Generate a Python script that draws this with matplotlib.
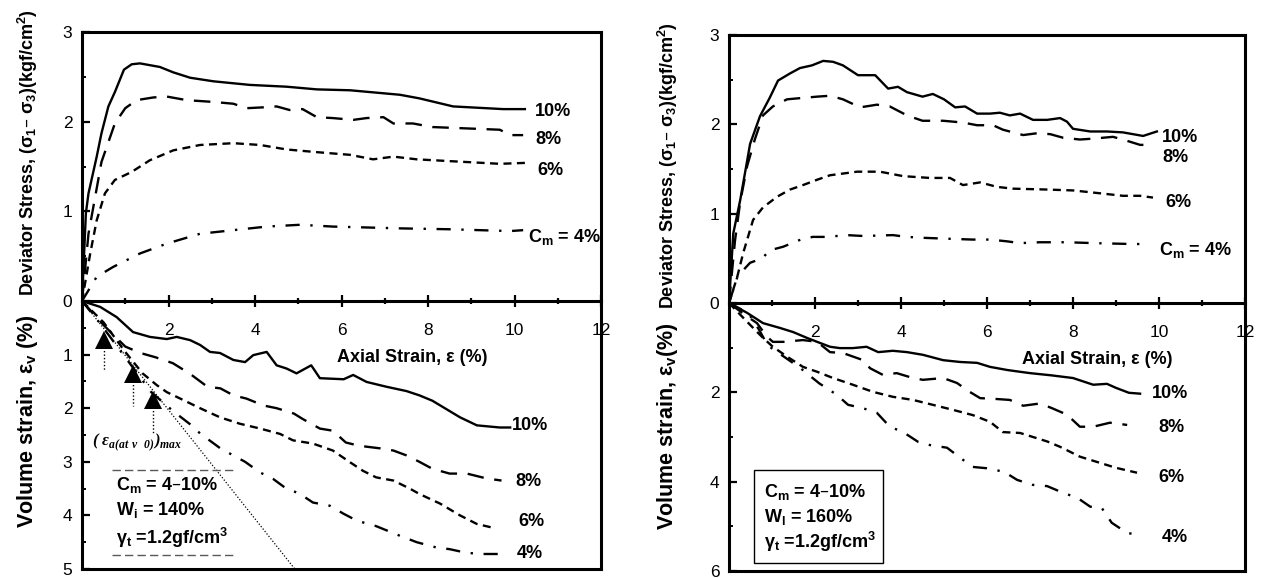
import matplotlib
matplotlib.use('Agg')
import matplotlib.pyplot as plt
from matplotlib.ticker import MultipleLocator, FixedLocator, NullFormatter
from matplotlib.lines import Line2D
from matplotlib.patches import Rectangle

plt.rcParams['font.family'] = ['Liberation Sans', 'DejaVu Sans']

W, H = 1263, 578

# ---------------- data: left panel (W = 140 %) ----------------
LT_x10 = [0, 0.09, 0.15, 0.34, 0.45, 0.61, 0.76, 0.97, 1.15, 1.34, 1.8, 2.11, 2.5, 3.04, 3.88, 4.73, 5.43, 6.2, 7.35, 7.8, 8.58, 9.74, 10.24]
LT_y10 = [0, 0.98, 1.2, 1.61, 1.87, 2.17, 2.33, 2.58, 2.64, 2.65, 2.61, 2.55, 2.49, 2.45, 2.41, 2.39, 2.36, 2.35, 2.30, 2.26, 2.17, 2.14, 2.14]
LT_x8 = [0, 0.15, 0.45, 0.76, 1.0, 1.26, 1.65, 1.96, 2.42, 3.04, 3.5, 3.8, 4.2, 4.5, 4.8, 5.1, 5.43, 5.8, 6.27, 6.58, 6.97, 7.2, 7.65, 8.1, 9.66, 9.9, 10.2]
LT_y8 = [0, 0.75, 1.55, 1.98, 2.15, 2.24, 2.27, 2.28, 2.24, 2.22, 2.2, 2.15, 2.16, 2.17, 2.13, 2.14, 2.05, 2.04, 2.02, 2.04, 2.05, 1.98, 1.98, 1.94, 1.91, 1.85, 1.85]
LT_x6 = [0, 0.19, 0.34, 0.53, 0.76, 1.15, 1.57, 2.11, 2.73, 3.5, 4.12, 4.73, 5.43, 6.2, 6.73, 7.2, 7.74, 8.5, 9.66, 10.24]
LT_y6 = [0, 0.53, 0.9, 1.2, 1.35, 1.44, 1.57, 1.68, 1.74, 1.76, 1.74, 1.69, 1.66, 1.63, 1.58, 1.61, 1.58, 1.56, 1.53, 1.54]
LT_x4 = [0, 0.34, 0.72, 1.34, 1.96, 2.73, 3.5, 4.27, 5.04, 5.8, 6.58, 7.35, 8.5, 9.9, 10.2]
LT_y4 = [0, 0.27, 0.38, 0.53, 0.64, 0.75, 0.79, 0.83, 0.85, 0.83, 0.82, 0.81, 0.80, 0.78, 0.79]

LB_x10 = [0, 0.42, 0.8, 1.18, 1.57, 1.96, 2.19, 2.5, 2.73, 2.96, 3.19, 3.5, 3.77, 3.96, 4.27, 4.5, 4.73, 4.96, 5.3, 5.5, 6.05, 6.27, 6.58, 7.04, 7.5, 7.8, 8.1, 8.74, 9.13, 9.66, 9.9]
LB_y10 = [0, 0.11, 0.3, 0.58, 0.67, 0.71, 0.67, 0.73, 0.82, 0.95, 0.97, 1.1, 1.14, 1.01, 0.95, 1.2, 1.26, 1.35, 1.2, 1.44, 1.46, 1.38, 1.51, 1.6, 1.68, 1.76, 1.86, 2.17, 2.32, 2.36, 2.36]
LB_x8 = [0, 0.5, 1.0, 1.35, 1.7, 2.1, 2.5, 2.9, 3.2, 3.5, 3.8, 4.2, 4.5, 4.9, 5.1, 5.5, 5.8, 6.1, 6.4, 6.9, 7.2, 7.5, 7.8, 8.1, 8.5, 8.9, 9.35, 9.7]
LB_y8 = [0, 0.45, 0.85, 0.97, 1.05, 1.16, 1.36, 1.6, 1.63, 1.76, 1.82, 1.95, 2.0, 2.1, 2.2, 2.38, 2.42, 2.64, 2.7, 2.75, 2.79, 2.88, 3.0, 3.13, 3.22, 3.22, 3.31, 3.35]
LB_x6 = [0, 0.5, 1.0, 1.4, 1.73, 1.96, 2.27, 2.73, 3.19, 3.65, 4.12, 4.58, 4.88, 5.34, 5.8, 6.2, 6.5, 6.8, 7.2, 7.58, 7.8, 8.28, 8.74, 9.13, 9.5]
LB_y6 = [0, 0.4, 0.95, 1.35, 1.57, 1.7, 1.82, 2.0, 2.17, 2.29, 2.38, 2.48, 2.6, 2.66, 2.79, 3.01, 3.17, 3.29, 3.35, 3.5, 3.6, 3.78, 4.0, 4.16, 4.23]
LB_x4 = [0, 0.4, 1.0, 1.6, 2.1, 2.5, 2.73, 3.2, 3.77, 4.12, 4.42, 4.69, 5.04, 5.34, 5.73, 6.05, 6.36, 6.8, 7.35, 7.74, 8.2, 8.5, 8.9, 9.3, 9.66]
LB_y4 = [0, 0.4, 1.05, 1.7, 2.05, 2.3, 2.47, 2.75, 3.0, 3.2, 3.32, 3.48, 3.6, 3.76, 3.82, 3.97, 4.1, 4.2, 4.38, 4.5, 4.6, 4.63, 4.7, 4.72, 4.72]

# tangent line and arrows (left volume panel)
tangent_x = [0, 5.0]
tangent_y = [0, 5.08]
arrow_x = [0.5, 1.18, 1.65]
arrow_tip = [0.55, 1.2, 1.68]
arrow_tail = [1.3, 1.95, 2.47]

# ---------------- data: right panel (W = 160 %) ----------------
RT_x10 = [0, 0.1, 0.26, 0.37, 0.49, 0.72, 0.95, 1.14, 1.42, 1.65, 1.93, 2.19, 2.42, 2.65, 3.0, 3.4, 3.7, 3.93, 4.14, 4.5, 4.74, 5.0, 5.26, 5.49, 5.77, 6.07, 6.3, 6.53, 6.77, 7.07, 7.4, 7.7, 7.86, 8.0, 8.4, 8.79, 9.16, 9.63, 9.95]
RT_y10 = [0, 0.78, 1.15, 1.45, 1.78, 2.09, 2.3, 2.49, 2.57, 2.63, 2.66, 2.71, 2.7, 2.66, 2.55, 2.55, 2.4, 2.42, 2.36, 2.31, 2.34, 2.28, 2.19, 2.2, 2.12, 2.12, 2.13, 2.1, 2.12, 2.05, 2.05, 2.07, 2.03, 1.95, 1.92, 1.92, 1.91, 1.87, 1.92]
RT_x8 = [0, 0.14, 0.26, 0.42, 0.6, 0.79, 1.02, 1.35, 1.58, 2.05, 2.35, 2.65, 3.05, 3.44, 3.74, 4.14, 4.5, 4.98, 5.44, 5.77, 6.14, 6.37, 6.84, 7.16, 7.47, 7.77, 8.16, 8.47, 8.93, 9.16, 9.56, 9.79]
RT_y8 = [0, 0.7, 1.13, 1.53, 1.83, 2.1, 2.2, 2.28, 2.29, 2.31, 2.32, 2.28, 2.19, 2.22, 2.2, 2.1, 2.04, 2.04, 2.02, 1.99, 1.99, 1.94, 1.88, 1.9, 1.89, 1.85, 1.83, 1.84, 1.86, 1.83, 1.77, 1.77]
RT_x6 = [0, 0.19, 0.33, 0.56, 0.79, 1.12, 1.42, 1.72, 2.05, 2.35, 2.98, 3.51, 4.05, 4.67, 5.14, 5.44, 5.84, 6.23, 6.6, 7.4, 8.0, 8.4, 9.16, 9.56, 9.86]
RT_y6 = [0, 0.29, 0.56, 0.93, 1.07, 1.19, 1.27, 1.32, 1.38, 1.43, 1.47, 1.47, 1.42, 1.4, 1.4, 1.32, 1.35, 1.3, 1.28, 1.27, 1.26, 1.24, 1.2, 1.2, 1.18]
RT_x4 = [0, 0.2, 0.49, 0.77, 0.95, 1.26, 1.72, 1.95, 2.28, 2.74, 3.12, 3.81, 4.14, 4.5, 5.05, 5.67, 6.07, 6.47, 6.77, 7.23, 7.86, 8.5, 9.4, 9.56]
RT_y4 = [0, 0.3, 0.45, 0.5, 0.59, 0.63, 0.72, 0.74, 0.74, 0.76, 0.75, 0.76, 0.74, 0.73, 0.72, 0.71, 0.71, 0.69, 0.67, 0.68, 0.68, 0.67, 0.66, 0.66]

RB_x10 = [0, 0.42, 0.79, 1.19, 1.49, 1.81, 2.05, 2.35, 2.58, 2.88, 3.2, 3.47, 3.81, 4.14, 4.51, 4.98, 5.37, 5.77, 6.07, 6.47, 6.77, 7.0, 7.5, 8.0, 8.47, 8.79, 9.0, 9.3, 9.56]
RB_y10 = [0, 0.22, 0.45, 0.56, 0.65, 0.78, 0.87, 0.98, 1.01, 1.01, 0.98, 1.1, 1.07, 1.1, 1.16, 1.28, 1.32, 1.34, 1.43, 1.5, 1.54, 1.57, 1.62, 1.68, 1.83, 1.81, 1.9, 2.01, 2.03]
RB_x8 = [0, 0.42, 0.65, 0.88, 1.02, 1.26, 1.72, 2.05, 2.35, 2.65, 3.12, 3.28, 3.58, 3.9, 4.28, 4.51, 4.98, 5.3, 5.6, 5.84, 6.23, 6.53, 6.84, 7.23, 7.5, 7.86, 8.16, 8.47, 8.86, 9.26]
RB_y8 = [0, 0.3, 0.45, 0.75, 0.87, 0.87, 0.83, 0.87, 1.1, 1.12, 1.28, 1.46, 1.61, 1.57, 1.68, 1.72, 1.68, 1.79, 1.99, 2.13, 2.15, 2.17, 2.3, 2.25, 2.35, 2.5, 2.77, 2.77, 2.68, 2.73]
RB_x6 = [0, 0.4, 0.79, 1.02, 1.35, 1.72, 2.05, 2.42, 2.88, 3.35, 3.81, 4.28, 4.74, 5.2, 5.67, 6.07, 6.37, 6.77, 7.07, 7.4, 7.7, 8.16, 8.63, 9.0, 9.49]
RB_y6 = [0, 0.4, 0.78, 0.98, 1.2, 1.43, 1.54, 1.68, 1.83, 1.99, 2.1, 2.17, 2.28, 2.39, 2.51, 2.66, 2.89, 2.91, 3.0, 3.1, 3.22, 3.44, 3.58, 3.69, 3.8]
RB_x4 = [0, 0.3, 0.5, 0.7, 0.9, 1.2, 1.65, 2.1, 2.5, 2.77, 3.1, 3.44, 3.74, 4.05, 4.4, 4.67, 5.07, 5.44, 5.67, 6.0, 6.4, 6.7, 7.05, 7.4, 7.77, 8.1, 8.4, 8.67, 8.9, 9.26, 9.56]
RB_y4 = [0, 0.15, 0.3, 0.6, 0.95, 1.15, 1.45, 1.8, 2.05, 2.28, 2.35, 2.46, 2.77, 2.89, 3.11, 3.18, 3.24, 3.51, 3.67, 3.7, 3.78, 3.96, 4.07, 4.1, 4.25, 4.36, 4.56, 4.59, 4.92, 5.15, 5.19]

# ---------------- styles ----------------
LW = 1.7
styles = {
    '10': dict(color='black', lw=LW, linestyle='-'),
    '8': dict(color='black', lw=LW, linestyle=(0, (7.0, 4.5))),
    '6': dict(color='black', lw=LW, linestyle=(0, (3.4, 2.3))),
    '4': dict(color='black', lw=LW, linestyle=(0, (6.0, 4.5, 1.0, 4.5))),
}

fig = plt.figure(figsize=(W / 100, H / 100), dpi=100)


def box(x0, y0, x1, y1):
    return [x0 / W, 1 - y1 / H, (x1 - x0) / W, (y1 - y0) / H]


def fx(x):
    return x / W


def fy(y):
    return 1 - y / H


TICK_FS = 12.5
LAB_FS = 13
VOL_FS = 15.5


def make_panel(x0, x1, ytop, ymid, ybot, ymax_bot, bot_major, bot_minor):
    at = fig.add_axes(box(x0, ytop, x1, ymid))
    ab = fig.add_axes(box(x0, ymid, x1, ybot))
    for a in (at, ab):
        a.set_facecolor('none')
        a.set_xlim(0, 12)
        for s in a.spines.values():
            s.set_linewidth(2.2)
    at.set_ylim(0, 3)
    ab.set_ylim(ymax_bot, 0)
    ab.spines['top'].set_visible(False)
    # x axis on the middle line
    at.xaxis.set_major_locator(FixedLocator([2, 4, 6, 8, 10, 12]))
    at.xaxis.set_minor_locator(FixedLocator([1, 3, 5, 7, 9, 11]))
    at.tick_params(axis='x', which='major', direction='inout', length=9, width=1.6,
                   labelsize=TICK_FS, pad=11)
    at.tick_params(axis='x', which='minor', direction='inout', length=5, width=1.6)
    at.yaxis.set_major_locator(FixedLocator([0, 1, 2, 3]))
    at.yaxis.set_minor_locator(MultipleLocator(0.5))
    at.tick_params(axis='y', which='major', direction='in', length=6, width=1.6,
                   labelsize=TICK_FS, pad=7)
    at.tick_params(axis='y', which='minor', direction='in', length=3, width=1.4)
    ab.set_xticks([])
    ab.yaxis.set_major_locator(FixedLocator(bot_major))
    ab.yaxis.set_minor_locator(FixedLocator(bot_minor))
    ab.yaxis.set_minor_formatter(NullFormatter())
    ab.tick_params(axis='y', which='major', direction='in', length=6, width=1.6,
                   labelsize=TICK_FS, pad=7)
    ab.tick_params(axis='y', which='minor', direction='in', length=3, width=1.4)
    return at, ab


# ---------- left panel ----------
alt, alb = make_panel(82, 601, 32, 301, 569, 5,
                      [1, 2, 3, 4, 5], [0.5, 1.5, 2.5, 3.5, 4.5])
alt.plot(LT_x10, LT_y10, **styles['10'])
alt.plot(LT_x8, LT_y8, **styles['8'])
alt.plot(LT_x6, LT_y6, **styles['6'])
alt.plot(LT_x4, LT_y4, **styles['4'])
alb.plot(LB_x10, LB_y10, **styles['10'])
alb.plot(LB_x8, LB_y8, **styles['8'])
alb.plot(LB_x6, LB_y6, **styles['6'])
alb.plot(LB_x4, LB_y4, **styles['4'])
alb.plot(tangent_x, tangent_y, color='black', lw=0.9, linestyle=(0, (1, 1.5)))
for xa, tip, tail in zip(arrow_x, arrow_tip, arrow_tail):
    alb.plot([xa, xa], [tip + 0.3, tail], color='black', lw=1.0, linestyle=(0, (1, 1.5)))
    alb.plot([xa], [tip + 0.17], marker='^', markersize=13, color='black',
             markeredgewidth=0, linestyle='none')
fig.text(fx(92), fy(442), r'( ε$_\mathregular{a(at\ ν\ \ 0)}$)$_\mathregular{max}$',
         fontsize=12, family=['Liberation Serif', 'DejaVu Serif'], fontweight='bold',
         style='italic', va='center', ha='left')

# left labels
fig.text(fx(28), fy(153), 'Deviator Stress, (σ$_\\mathregular{1}$– σ$_\\mathregular{3}$)(kgf/cm$^\\mathregular{2}$)',
         rotation=90, ha='center', va='center', fontsize=LAB_FS, fontweight='bold')
fig.text(fx(28), fy(421), r'Volume strain, ε$_\mathregular{v}$ (%)',
         rotation=90, ha='center', va='center', fontsize=VOL_FS, fontweight='bold')
fig.text(fx(412), fy(358), 'Axial Strain, ε (%)', ha='center', va='center',
         fontsize=LAB_FS, fontweight='bold')

for txt, x, y in [('10%', 535, 112), ('8%', 535, 139), ('6%', 537, 170),
                  (r'C$_\mathregular{m}$ = 4%', 528, 237),
                  ('10%', 512, 425), ('8%', 515, 481), ('6%', 518, 522), ('4%', 517, 553)]:
    fig.text(fx(x), fy(y), txt, ha='left', va='center', fontsize=LAB_FS, fontweight='bold')

for txt, y in [(r'C$_\mathregular{m}$ = 4–10%', 485), (r'W$_\mathregular{i}$ = 140%', 510),
               (r'γ$_\mathregular{t}$ =1.2gf/cm$^\mathregular{3}$', 538)]:
    fig.text(fx(116), fy(y), txt, ha='left', va='center', fontsize=LAB_FS, fontweight='bold')
for y in (470, 555):
    fig.add_artist(Line2D([fx(112), fx(236)], [fy(y), fy(y)], color='0.35', lw=1.0,
                          linestyle=(0, (6, 3))))

# ---------- right panel ----------
art, arb = make_panel(729, 1245, 35, 303, 571, 6, [2, 4, 6], [1, 3, 5])
art.plot(RT_x10, RT_y10, **styles['10'])
art.plot(RT_x8, RT_y8, **styles['8'])
art.plot(RT_x6, RT_y6, **styles['6'])
art.plot(RT_x4, RT_y4, **styles['4'])
arb.plot(RB_x10, RB_y10, **styles['10'])
arb.plot(RB_x8, RB_y8, **styles['8'])
arb.plot(RB_x6, RB_y6, **styles['6'])
arb.plot(RB_x4, RB_y4, **styles['4'])

fig.text(fx(668), fy(166), 'Deviator Stress, (σ$_\\mathregular{1}$– σ$_\\mathregular{3}$)(kgf/cm$^\\mathregular{2}$)',
         rotation=90, ha='center', va='center', fontsize=LAB_FS, fontweight='bold')
fig.text(fx(668), fy(426), r'Volume strain, ε$_\mathregular{v}$(%)',
         rotation=90, ha='center', va='center', fontsize=VOL_FS, fontweight='bold')
fig.text(fx(1097), fy(360), 'Axial Strain, ε (%)', ha='center', va='center',
         fontsize=LAB_FS, fontweight='bold')

for txt, x, y in [('10%', 1162, 137), ('8%', 1162, 157), ('6%', 1165, 203),
                  (r'C$_\mathregular{m}$ = 4%', 1159, 250),
                  ('10%', 1152, 393), ('8%', 1158, 428), ('6%', 1158, 478), ('4%', 1162, 537)]:
    fig.text(fx(x), fy(y), txt, ha='left', va='center', fontsize=LAB_FS, fontweight='bold')

for txt, y in [(r'C$_\mathregular{m}$ = 4–10%', 492), (r'W$_\mathregular{l}$ = 160%', 517),
               (r'γ$_\mathregular{t}$ =1.2gf/cm$^\mathregular{3}$', 542)]:
    fig.text(fx(764), fy(y), txt, ha='left', va='center', fontsize=LAB_FS, fontweight='bold')
fig.add_artist(Rectangle((fx(754), fy(563)), (883 - 754) / W, (563 - 470) / H,
                         transform=fig.transFigure, fill=False, edgecolor='black', lw=1.0))

fig.savefig('out.png', dpi=100)
